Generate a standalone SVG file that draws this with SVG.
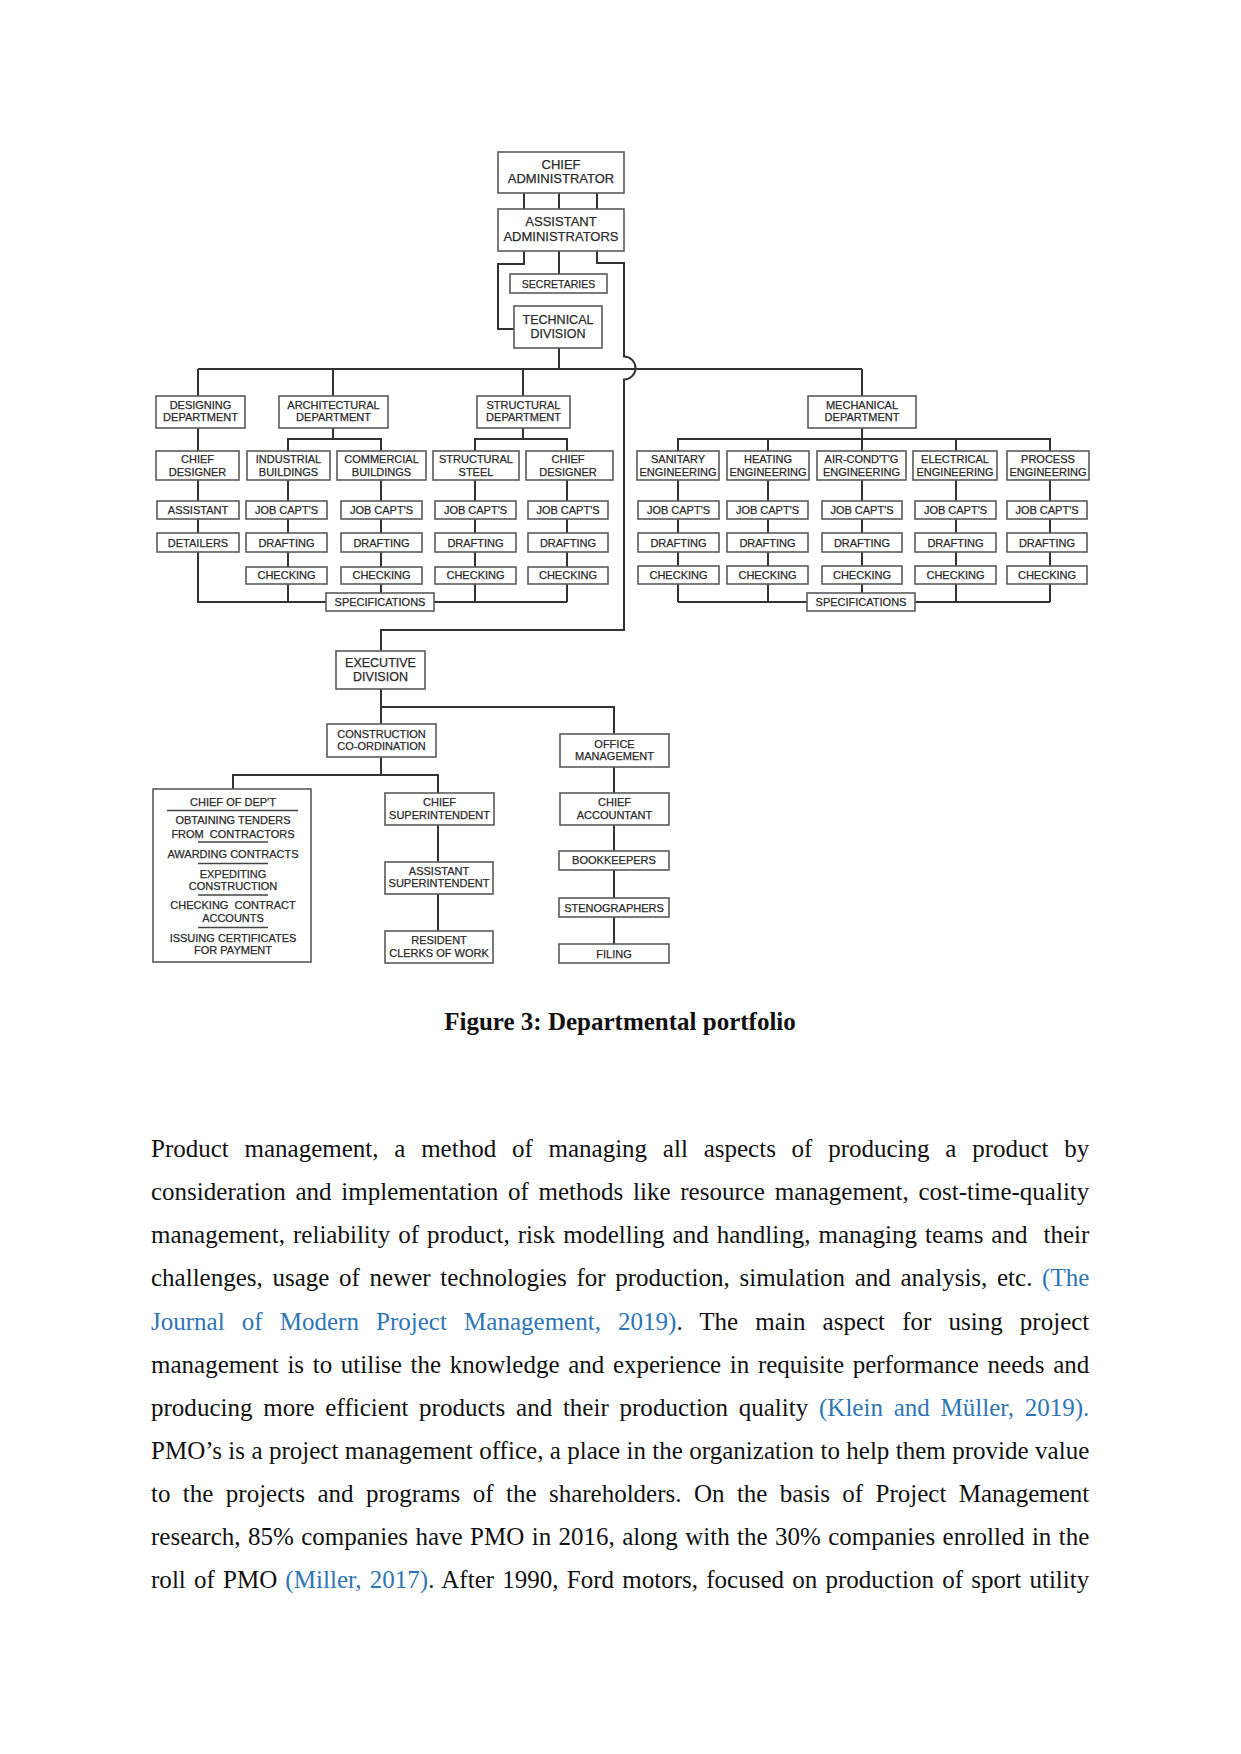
<svg xmlns="http://www.w3.org/2000/svg" width="1241" height="1754" viewBox="0 0 1241 1754">
<style>
.bx{fill:#fff;stroke:#5a5a5a;stroke-width:1.6}
.cn{fill:none;stroke:#333;stroke-width:2}
.sep{stroke:#444;stroke-width:1.6}
.t{font-family:"Liberation Sans",Arial,sans-serif;font-size:11px;fill:#2a2a2a;stroke:#2a2a2a;stroke-width:0.25;text-anchor:middle}
.t13{font-size:13px}
.t125{font-size:12.5px}
.t105{font-size:10.5px}
.pre{white-space:pre}
.p{font-family:"Liberation Serif","Times New Roman",serif;font-size:25px;fill:#111}
.c{fill:#2e75b6}
.cap{font-family:"Liberation Serif","Times New Roman",serif;font-size:25px;font-weight:bold;fill:#111;text-anchor:middle}
</style>
<rect width="1241" height="1754" fill="#fff"/>
<g id="connectors" class="cn">
<path d="M524 193V209M559 193V209M597 193V209"/>
<path d="M524 251V264H498V329H514"/>
<path d="M559 251V274"/>
<path d="M559 348V369"/>
<path d="M597 251V263H624V356.5A11.5 11.5 0 0 1 624 379.5V630H381V651"/>
<path d="M198 369H862M198 369V396M333 369V396M523 369V396M862 369V396"/>
<path d="M198 428V451M198 480V501M198 519V533M198 552V602H567"/>
<path d="M333 428V439M288 451V439H381V451"/>
<path d="M288 480V501M288 519V533M288 552V567M288 584V602"/>
<path d="M381 480V501M381 519V533M381 552V567M381 584V593"/>
<path d="M523 428V439M475 451V439H567V451"/>
<path d="M475 480V501M475 519V533M475 552V567M475 584V602"/>
<path d="M567 480V501M567 519V533M567 552V567M567 584V602"/>
<path d="M862 428V439M678 451V439H1050V451M768 439V451M862 439V451M956 439V451"/>
<path d="M678 480V501M678 519V533M678 552V566M678 584V602"/>
<path d="M768 480V501M768 519V533M768 552V566M768 584V602"/>
<path d="M862 480V501M862 519V533M862 552V566M862 584V593"/>
<path d="M956 480V501M956 519V533M956 552V566M956 584V602"/>
<path d="M1050 480V501M1050 519V533M1050 552V566M1050 584V602"/>
<path d="M678 602H1050"/>
<path d="M381 689V724M381 707H614V734"/>
<path d="M381 757V775M233 789V775H438V793"/>
<path d="M438 825V862M438 894V931"/>
<path d="M614 767V793M614 825V851M614 870V898M614 917V944"/>
</g>
<g id="n-chief-admin"><rect class="bx" x="498" y="152" width="126" height="41"/><text class="t t13" x="561" y="168.7">CHIEF</text><text class="t t13" x="561" y="183">ADMINISTRATOR</text></g>
<g id="n-asst-admin"><rect class="bx" x="498" y="209" width="126" height="42"/><text class="t t13" x="561" y="225.7">ASSISTANT</text><text class="t t13" x="561" y="240.7">ADMINISTRATORS</text></g>
<g id="n-secretaries"><rect class="bx" x="510" y="274" width="97" height="19"/><text class="t t105" x="558.5" y="288">SECRETARIES</text></g>
<g id="n-technical"><rect class="bx" x="514" y="306" width="88" height="42"/><text class="t t125" x="558" y="323.5">TECHNICAL</text><text class="t t125" x="558" y="338">DIVISION</text></g>
<g id="n-designing"><rect class="bx" x="156" y="396" width="89" height="32"/><text class="t" x="200.5" y="409">DESIGNING</text><text class="t" x="200.5" y="421.3">DEPARTMENT</text></g>
<g id="n-architectural"><rect class="bx" x="279" y="396" width="109" height="32"/><text class="t" x="333.5" y="409">ARCHITECTURAL</text><text class="t" x="333.5" y="421.3">DEPARTMENT</text></g>
<g id="n-structural"><rect class="bx" x="477" y="396" width="93" height="32"/><text class="t" x="523.5" y="409">STRUCTURAL</text><text class="t" x="523.5" y="421.3">DEPARTMENT</text></g>
<g id="n-mechanical"><rect class="bx" x="808" y="396" width="108" height="32"/><text class="t" x="862" y="409">MECHANICAL</text><text class="t" x="862" y="421.3">DEPARTMENT</text></g>
<g id="n-chief-designer-1"><rect class="bx" x="156" y="451" width="83" height="29"/><text class="t" x="197.5" y="463.3">CHIEF</text><text class="t" x="197.5" y="475.7">DESIGNER</text></g>
<g id="n-industrial"><rect class="bx" x="247" y="451" width="83" height="29"/><text class="t" x="288.5" y="463.3">INDUSTRIAL</text><text class="t" x="288.5" y="475.7">BUILDINGS</text></g>
<g id="n-commercial"><rect class="bx" x="337" y="451" width="89" height="29"/><text class="t" x="381.5" y="463.3">COMMERCIAL</text><text class="t" x="381.5" y="475.7">BUILDINGS</text></g>
<g id="n-struct-steel"><rect class="bx" x="433" y="451" width="86" height="29"/><text class="t" x="476" y="463.3">STRUCTURAL</text><text class="t" x="476" y="475.7">STEEL</text></g>
<g id="n-chief-designer-2"><rect class="bx" x="526" y="451" width="87" height="29"/><text class="t" x="568" y="463.3">CHIEF</text><text class="t" x="568" y="475.7">DESIGNER</text></g>
<g id="n-sanitary"><rect class="bx" x="637" y="451" width="82" height="29"/><text class="t" x="678" y="463.3">SANITARY</text><text class="t" x="678" y="475.7">ENGINEERING</text></g>
<g id="n-heating"><rect class="bx" x="727" y="451" width="82" height="29"/><text class="t" x="768" y="463.3">HEATING</text><text class="t" x="768" y="475.7">ENGINEERING</text></g>
<g id="n-aircond"><rect class="bx" x="817" y="451" width="89" height="29"/><text class="t" x="861.5" y="463.3">AIR-COND'T'G</text><text class="t" x="861.5" y="475.7">ENGINEERING</text></g>
<g id="n-electrical"><rect class="bx" x="913" y="451" width="84" height="29"/><text class="t" x="955" y="463.3">ELECTRICAL</text><text class="t" x="955" y="475.7">ENGINEERING</text></g>
<g id="n-process"><rect class="bx" x="1007" y="451" width="82" height="29"/><text class="t" x="1048" y="463.3">PROCESS</text><text class="t" x="1048" y="475.7">ENGINEERING</text></g>
<g id="n-assistant"><rect class="bx" x="157" y="501" width="82" height="18"/><text class="t" x="198" y="514">ASSISTANT</text></g>
<g id="n-jc-1"><rect class="bx" x="246" y="501" width="81" height="18"/><text class="t" x="286.5" y="514">JOB CAPT'S</text></g>
<g id="n-jc-2"><rect class="bx" x="341" y="501" width="81" height="18"/><text class="t" x="381.5" y="514">JOB CAPT'S</text></g>
<g id="n-jc-3"><rect class="bx" x="435" y="501" width="81" height="18"/><text class="t" x="475.5" y="514">JOB CAPT'S</text></g>
<g id="n-jc-4"><rect class="bx" x="528" y="501" width="80" height="18"/><text class="t" x="568" y="514">JOB CAPT'S</text></g>
<g id="n-jc-5"><rect class="bx" x="638" y="501" width="81" height="18"/><text class="t" x="678.5" y="514">JOB CAPT'S</text></g>
<g id="n-jc-6"><rect class="bx" x="727" y="501" width="81" height="18"/><text class="t" x="767.5" y="514">JOB CAPT'S</text></g>
<g id="n-jc-7"><rect class="bx" x="822" y="501" width="80" height="18"/><text class="t" x="862" y="514">JOB CAPT'S</text></g>
<g id="n-jc-8"><rect class="bx" x="915" y="501" width="81" height="18"/><text class="t" x="955.5" y="514">JOB CAPT'S</text></g>
<g id="n-jc-9"><rect class="bx" x="1007" y="501" width="80" height="18"/><text class="t" x="1047" y="514">JOB CAPT'S</text></g>
<g id="n-detailers"><rect class="bx" x="157" y="533" width="82" height="19"/><text class="t" x="198" y="546.7">DETAILERS</text></g>
<g id="n-dr-1"><rect class="bx" x="246" y="533" width="81" height="19"/><text class="t" x="286.5" y="546.7">DRAFTING</text></g>
<g id="n-dr-2"><rect class="bx" x="341" y="533" width="81" height="19"/><text class="t" x="381.5" y="546.7">DRAFTING</text></g>
<g id="n-dr-3"><rect class="bx" x="435" y="533" width="81" height="19"/><text class="t" x="475.5" y="546.7">DRAFTING</text></g>
<g id="n-dr-4"><rect class="bx" x="528" y="533" width="80" height="19"/><text class="t" x="568" y="546.7">DRAFTING</text></g>
<g id="n-dr-5"><rect class="bx" x="638" y="533" width="81" height="19"/><text class="t" x="678.5" y="546.7">DRAFTING</text></g>
<g id="n-dr-6"><rect class="bx" x="727" y="533" width="81" height="19"/><text class="t" x="767.5" y="546.7">DRAFTING</text></g>
<g id="n-dr-7"><rect class="bx" x="822" y="533" width="80" height="19"/><text class="t" x="862" y="546.7">DRAFTING</text></g>
<g id="n-dr-8"><rect class="bx" x="915" y="533" width="81" height="19"/><text class="t" x="955.5" y="546.7">DRAFTING</text></g>
<g id="n-dr-9"><rect class="bx" x="1007" y="533" width="80" height="19"/><text class="t" x="1047" y="546.7">DRAFTING</text></g>
<g id="n-ck-1"><rect class="bx" x="246" y="567" width="81" height="17"/><text class="t" x="286.5" y="579.3">CHECKING</text></g>
<g id="n-ck-2"><rect class="bx" x="341" y="567" width="81" height="17"/><text class="t" x="381.5" y="579.3">CHECKING</text></g>
<g id="n-ck-3"><rect class="bx" x="435" y="567" width="81" height="17"/><text class="t" x="475.5" y="579.3">CHECKING</text></g>
<g id="n-ck-4"><rect class="bx" x="528" y="567" width="80" height="17"/><text class="t" x="568" y="579.3">CHECKING</text></g>
<g id="n-ck-5"><rect class="bx" x="638" y="566" width="81" height="18"/><text class="t" x="678.5" y="579.3">CHECKING</text></g>
<g id="n-ck-6"><rect class="bx" x="727" y="566" width="81" height="18"/><text class="t" x="767.5" y="579.3">CHECKING</text></g>
<g id="n-ck-7"><rect class="bx" x="822" y="566" width="80" height="18"/><text class="t" x="862" y="579.3">CHECKING</text></g>
<g id="n-ck-8"><rect class="bx" x="915" y="566" width="81" height="18"/><text class="t" x="955.5" y="579.3">CHECKING</text></g>
<g id="n-ck-9"><rect class="bx" x="1007" y="566" width="80" height="18"/><text class="t" x="1047" y="579.3">CHECKING</text></g>
<g id="n-spec-1"><rect class="bx" x="326" y="593" width="108" height="18"/><text class="t" x="380" y="606">SPECIFICATIONS</text></g>
<g id="n-spec-2"><rect class="bx" x="807" y="593" width="108" height="18"/><text class="t" x="861" y="606">SPECIFICATIONS</text></g>
<g id="n-executive"><rect class="bx" x="336" y="651" width="89" height="38"/><text class="t t125" x="380.5" y="666.5">EXECUTIVE</text><text class="t t125" x="380.5" y="681">DIVISION</text></g>
<g id="n-construction"><rect class="bx" x="327" y="724" width="109" height="33"/><text class="t" x="381.5" y="737.5">CONSTRUCTION</text><text class="t" x="381.5" y="750">CO-ORDINATION</text></g>
<g id="n-office"><rect class="bx" x="560" y="734" width="109" height="33"/><text class="t" x="614.5" y="748">OFFICE</text><text class="t" x="614.5" y="760">MANAGEMENT</text></g>
<g id="n-chief-dept"><rect class="bx" x="153" y="789" width="158" height="173"/>
<text class="t" x="233" y="805.5">CHIEF OF DEP'T</text>
<line class="sep" x1="167" y1="810.5" x2="298" y2="810.5"/>
<text class="t" x="233" y="824">OBTAINING TENDERS</text>
<text class="t pre" x="233" y="837.5">FROM  CONTRACTORS</text>
<line class="sep" x1="198" y1="842" x2="268" y2="842"/>
<text class="t" x="233" y="857.5">AWARDING CONTRACTS</text>
<line class="sep" x1="198" y1="863.5" x2="268" y2="863.5"/>
<text class="t" x="233" y="877.5">EXPEDITING</text>
<text class="t" x="233" y="889.5">CONSTRUCTION</text>
<line class="sep" x1="198" y1="895" x2="268" y2="895"/>
<text class="t pre" x="233" y="908.8">CHECKING  CONTRACT</text>
<text class="t" x="233" y="922">ACCOUNTS</text>
<line class="sep" x1="198" y1="927.5" x2="268" y2="927.5"/>
<text class="t" x="233" y="942">ISSUING CERTIFICATES</text>
<text class="t" x="233" y="954.3">FOR PAYMENT</text>
</g>
<g id="n-chief-super"><rect class="bx" x="385" y="793" width="109" height="32"/><text class="t" x="439.5" y="806.3">CHIEF</text><text class="t" x="439.5" y="819">SUPERINTENDENT</text></g>
<g id="n-asst-super"><rect class="bx" x="385" y="862" width="108" height="32"/><text class="t" x="439" y="874.7">ASSISTANT</text><text class="t" x="439" y="887.3">SUPERINTENDENT</text></g>
<g id="n-resident"><rect class="bx" x="385" y="931" width="108" height="32"/><text class="t" x="439" y="944">RESIDENT</text><text class="t" x="439" y="956.7">CLERKS OF WORK</text></g>
<g id="n-chief-acct"><rect class="bx" x="560" y="793" width="109" height="32"/><text class="t" x="614.5" y="806.3">CHIEF</text><text class="t" x="614.5" y="818.5">ACCOUNTANT</text></g>
<g id="n-bookkeepers"><rect class="bx" x="559" y="851" width="110" height="19"/><text class="t" x="614" y="864.3">BOOKKEEPERS</text></g>
<g id="n-steno"><rect class="bx" x="559" y="898" width="110" height="19"/><text class="t" x="614" y="911.7">STENOGRAPHERS</text></g>
<g id="n-filing"><rect class="bx" x="559" y="944" width="110" height="19"/><text class="t" x="614" y="957.5">FILING</text></g>
<text class="cap" x="620" y="1030">Figure 3: Departmental portfolio</text>
<g id="paragraph">
<text class="p" x="151" y="1157.2" word-spacing="9.5" textLength="938.3" lengthAdjust="spacing">Product management, a method of managing all aspects of producing a product by</text>
<text class="p" x="151" y="1200.3" word-spacing="3.5" textLength="938.3" lengthAdjust="spacing">consideration and implementation of methods like resource management, cost-time-quality</text>
<text class="p" x="151" y="1243.4" word-spacing="1.75" textLength="938.3" lengthAdjust="spacing" style="white-space:pre">management, reliability of product, risk modelling and handling, managing teams and  their</text>
<text class="p" x="151" y="1286.4" word-spacing="3.44" textLength="938.3" lengthAdjust="spacing">challenges, usage of newer technologies for production, simulation and analysis, etc. <tspan class="c">(The</tspan></text>
<text class="p" x="151" y="1329.5" word-spacing="10.88" textLength="938.3" lengthAdjust="spacing"><tspan class="c">Journal of Modern Project Management, 2019)</tspan>. The main aspect for using project</text>
<text class="p" x="151" y="1372.6" word-spacing="2.4" textLength="938.3" lengthAdjust="spacing">management is to utilise the knowledge and experience in requisite performance needs and</text>
<text class="p" x="151" y="1415.7" word-spacing="4.44" textLength="938.3" lengthAdjust="spacing">producing more efficient products and their production quality <tspan class="c">(Klein and Müller, 2019).</tspan></text>
<text class="p" x="151" y="1458.8" word-spacing="0.07" textLength="938.3" lengthAdjust="spacing">PMO’s is a project management office, a place in the organization to help them provide value</text>
<text class="p" x="151" y="1501.8" word-spacing="6.16" textLength="938.3" lengthAdjust="spacing">to the projects and programs of the shareholders. On the basis of Project Management</text>
<text class="p" x="151" y="1544.9" word-spacing="1.16" textLength="938.3" lengthAdjust="spacing">research, 85% companies have PMO in 2016, along with the 30% companies enrolled in the</text>
<text class="p" x="151" y="1588" word-spacing="1.84" textLength="938.3" lengthAdjust="spacing">roll of PMO <tspan class="c">(Miller, 2017)</tspan>. After 1990, Ford motors, focused on production of sport utility</text>
</g>
</svg>
